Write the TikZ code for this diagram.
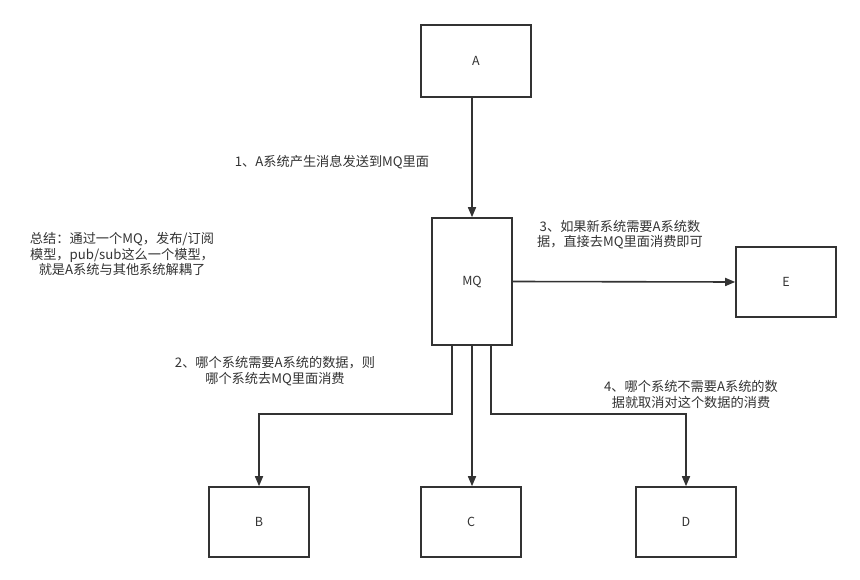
\documentclass[tikz,border=0pt]{standalone}
\usepackage{fontspec}
\setmainfont{Noto Sans CJK SC}
\usetikzlibrary{arrows.meta}
\definecolor{ink}{HTML}{333333}
\tikzset{
  box/.style={draw=ink, line width=1.6pt, fill=white, inner sep=0pt, font=\fontsize{12.5}{14}\selectfont, text=ink},
  conn/.style={draw=ink, line width=1.6pt, -{Triangle[length=10pt,width=8pt]}},
  note/.style={font=\fontsize{13.2}{15.5}\selectfont, text=ink, align=center, inner sep=0pt},
}
\begin{document}
\begin{tikzpicture}[x=1pt,y=-1pt]
\useasboundingbox[fill=white] (0,0) rectangle (860,580);
\node[box, minimum width=110pt, minimum height=72pt] (A) at (476,61) {A};
\node[box, minimum width=80pt, minimum height=127pt] (MQ) at (472,281.5) {MQ};
\node[box, minimum width=100pt, minimum height=70pt] (E) at (786,282) {E};
\node[box, minimum width=100pt, minimum height=70pt] (B) at (259,522) {B};
\node[box, minimum width=100pt, minimum height=70pt] (C) at (471,522) {C};
\node[box, minimum width=100pt, minimum height=70pt] (D) at (686,522) {D};
\coordinate (mqbl) at (452,345);
\coordinate (mqbc) at (472,345);
\coordinate (mqbr) at (491,345);
\draw[conn] (A.south -| mqbc) -- (MQ.north -| mqbc);
\draw[conn] (MQ.east) -- (E.west);
\draw[conn] (mqbl) |- (259,414) -- (B.north);
\draw[conn] (mqbc) -- (C.north -| mqbc);
\draw[conn] (mqbr) |- (686,414) -- (D.north);
\node[note] (n1) at (332,162) {1、A系统产生消息发送到MQ里面};
\node[note] (n0) at (122,254) {总结：通过一个MQ，发布/订阅\\模型，pub/sub这么一个模型，\\就是A系统与其他系统解耦了};
\node[note] (n3) at (620,234.5) {3、如果新系统需要A系统数\\据，直接去MQ里面消费即可};
\node[note] (n2) at (275,371) {2、哪个系统需要A系统的数据，则\\哪个系统去MQ里面消费};
\node[note] (n4) at (691,394.5) {4、哪个系统不需要A系统的数\\据就取消对这个数据的消费};
\end{tikzpicture}
\end{document}
